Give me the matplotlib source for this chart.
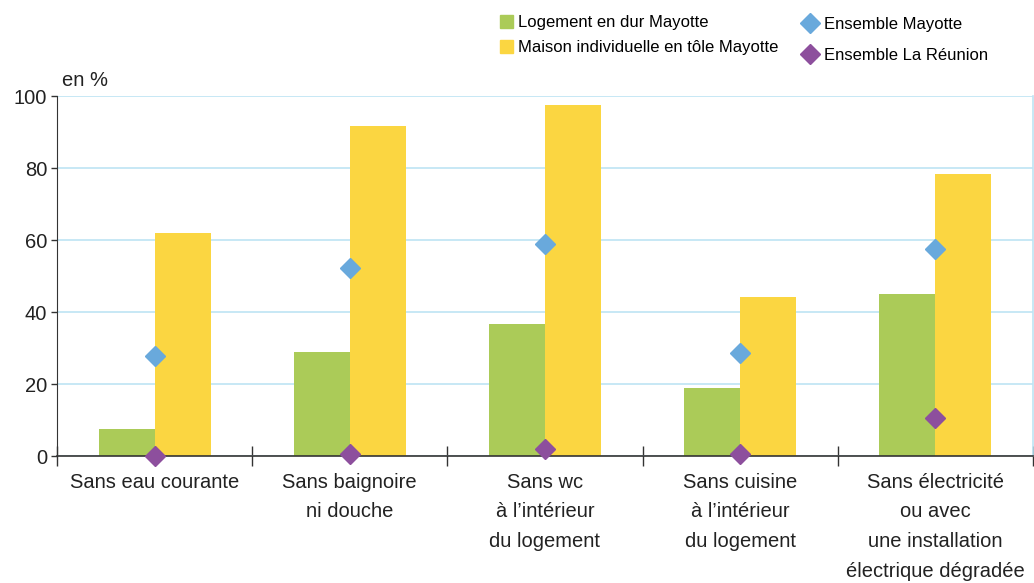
import numpy as np
import matplotlib.pyplot as plt
from matplotlib.patches import Patch
from matplotlib.lines import Line2D

plt.rcParams['font.family'] = ['Liberation Sans', 'DejaVu Sans']

categories = ["Sans eau courante", "Sans baignoire\nni douche", "Sans wc\nà l\u2019intérieur\ndu logement",
              "Sans cuisine\nà l\u2019intérieur\ndu logement",
              "Sans électricité\nou avec\nune installation\nélectrique dégradée"]
dur = [7.5, 29, 36.7, 18.9, 44.9]
tole = [62, 91.8, 97.5, 44.2, 78.4]
ens_mayotte = [27.8, 52.3, 58.9, 28.5, 57.6]
ens_reunion = [0.1, 0.6, 1.9, 0.6, 10.7]

green = "#abcb58"
yellow = "#fbd641"
blue = "#69a9dc"
purple = "#8d4f9d"
grid_c = "#bde4f4"

fig = plt.figure(figsize=(10.34, 5.83), dpi=100)
ax = fig.add_axes([0.0551, 0.2178, 0.9439, 0.6175])

x = np.arange(len(categories))
w = 0.287
ax.bar(x - w / 2, dur, w, color=green, zorder=2)
ax.bar(x + w / 2, tole, w, color=yellow, zorder=2)
ax.plot(x, ens_mayotte, 'D', color=blue, markersize=10.5, zorder=3, clip_on=False)
ax.plot(x, ens_reunion, 'D', color=purple, markersize=10.5, zorder=3, clip_on=False)

ax.set_xlim(-0.5, len(categories) - 0.5)
ax.set_ylim(0, 100)
ax.set_yticks([0, 20, 40, 60, 80, 100])
ax.yaxis.grid(True, color=grid_c, linewidth=1.2, zorder=0)
ax.set_axisbelow(True)

# category separators as major ticks, labels on minor ticks
ax.set_xticks(np.arange(len(categories) + 1) - 0.5)
ax.set_xticklabels([])
ax.set_xticks(x, minor=True)
ax.set_xticklabels(categories, minor=True, fontsize=14.5, color="#222222", linespacing=1.72, va="top")
ax.tick_params(axis='x', which='minor', length=0, pad=12)
ax.tick_params(axis='x', which='major', direction='inout', length=14, width=1, color="#333333")
ax.tick_params(axis='y', direction='out', length=4, width=1, color="#333333", labelsize=14.5,
               labelcolor="#222222", pad=3)

ax.spines['top'].set_visible(False)
ax.spines['right'].set_color(grid_c)
ax.spines['right'].set_linewidth(1.2)
ax.spines['left'].set_color("#333333")
ax.spines['bottom'].set_color("#333333")
ax.spines['bottom'].set_linewidth(1.2)

fig.text(0.060, 0.852, "en %", fontsize=14.5, color="#222222")

h1 = [Patch(color=green), Patch(color=yellow)]
fig.legend(h1, ["Logement en dur Mayotte", "Maison individuelle en tôle Mayotte"],
           loc='upper left', bbox_to_anchor=(0.469, 1.0), frameon=False, fontsize=12,
           handlelength=0.8, handleheight=0.8, handletextpad=0.3, labelspacing=0.6)
h2 = [Line2D([], [], marker='D', color=blue, linestyle='none', markersize=10.5),
      Line2D([], [], marker='D', color=purple, linestyle='none', markersize=10.5)]
fig.legend(h2, ["Ensemble Mayotte", "Ensemble La Réunion"],
           loc='upper left', bbox_to_anchor=(0.761, 0.997), frameon=False, fontsize=12,
           handlelength=1.0, handletextpad=0.35, labelspacing=0.95)

fig.savefig("out.png", dpi=100)
